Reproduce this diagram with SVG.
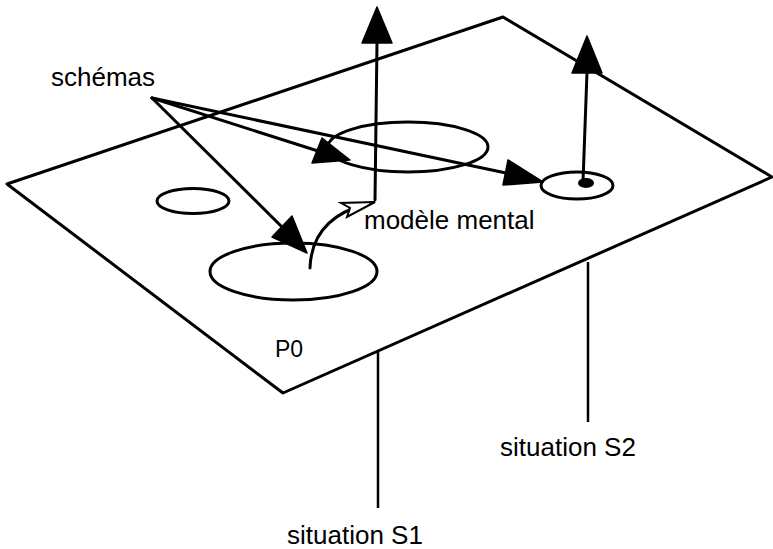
<svg xmlns="http://www.w3.org/2000/svg" width="773" height="549" viewBox="0 0 773 549">
  <style>
    .ln { fill: none; stroke: #000; stroke-width: 3; stroke-linecap: round; stroke-linejoin: round; }
    .thin { fill: none; stroke: #000; stroke-width: 2.5; }
    .head { fill: #000; stroke: #000; stroke-width: 1.5; stroke-linejoin: round; }
    .lbl { font-family: "Liberation Sans", Arial, Helvetica, sans-serif; font-size: 26px; fill: #000; }
  </style>
  <rect width="773" height="549" fill="#fff"/>

  <!-- plane P0 and the two situation supports -->
  <g id="plane">
    <polygon class="ln" points="7,184 503,17 772,177 283,393"/>
    <text class="lbl" x="275" y="357" style="font-size:23px">P0</text>
  </g>
  <g id="situationS1">
    <line class="thin" x1="378" y1="350" x2="378" y2="508"/>
    <text class="lbl" x="287" y="544">situation S1</text>
  </g>
  <g id="situationS2">
    <line class="thin" x1="588" y1="262" x2="588" y2="422"/>
    <text class="lbl" x="500" y="456">situation S2</text>
  </g>

  <!-- regions on the plane -->
  <g id="small-region">
    <ellipse class="ln" cx="193" cy="201" rx="36" ry="12.5"/>
  </g>
  <g id="middle-region">
    <ellipse class="ln" cx="408" cy="147" rx="80" ry="25"/>
  </g>
  <g id="bottom-region">
    <ellipse class="ln" cx="293.5" cy="271.5" rx="83.5" ry="28.5"/>
  </g>
  <g id="target-region">
    <ellipse class="ln" cx="577" cy="185.5" rx="36" ry="13.5"/>
    <ellipse cx="586" cy="183" rx="8" ry="5" fill="#000"/>
  </g>

  <g id="schemas">
    <text class="lbl" x="51" y="86">schémas</text>
  </g>
  <g id="modele-mental">
    <text class="lbl" x="364" y="229">modèle mental</text>
  </g>

  <!-- connectors -->
  <g id="connectors">
    <!-- schémas towards the regions -->
    <line class="ln" x1="152" y1="98" x2="318" y2="151"/>
    <polygon class="head" points="350,160 312,163 322,138"/>
    <line class="ln" x1="152" y1="98" x2="506" y2="173"/>
    <polygon class="head" points="543,182 503,185 508,160"/>
    <line class="ln" x1="152" y1="98" x2="283" y2="228"/>
    <polygon class="head" points="307,253 272,237 292,216"/>

    <!-- vertical arrows rising from the plane -->
    <line class="ln" x1="375" y1="200" x2="377" y2="42"/>
    <polygon class="head" points="377,7 362,43 392,43"/>
    <line class="ln" x1="583" y1="182" x2="587" y2="72"/>
    <polygon class="head" points="587,36 572,73 602,73"/>

    <!-- curved transition to the mental model -->
    <path class="ln" d="M310,268 C311,240 325,215 366,204"/>
    <polygon points="375,202 341,203 350,208 347,217" fill="#fff" stroke="#000" stroke-width="2" stroke-linejoin="miter"/>
  </g>
</svg>
